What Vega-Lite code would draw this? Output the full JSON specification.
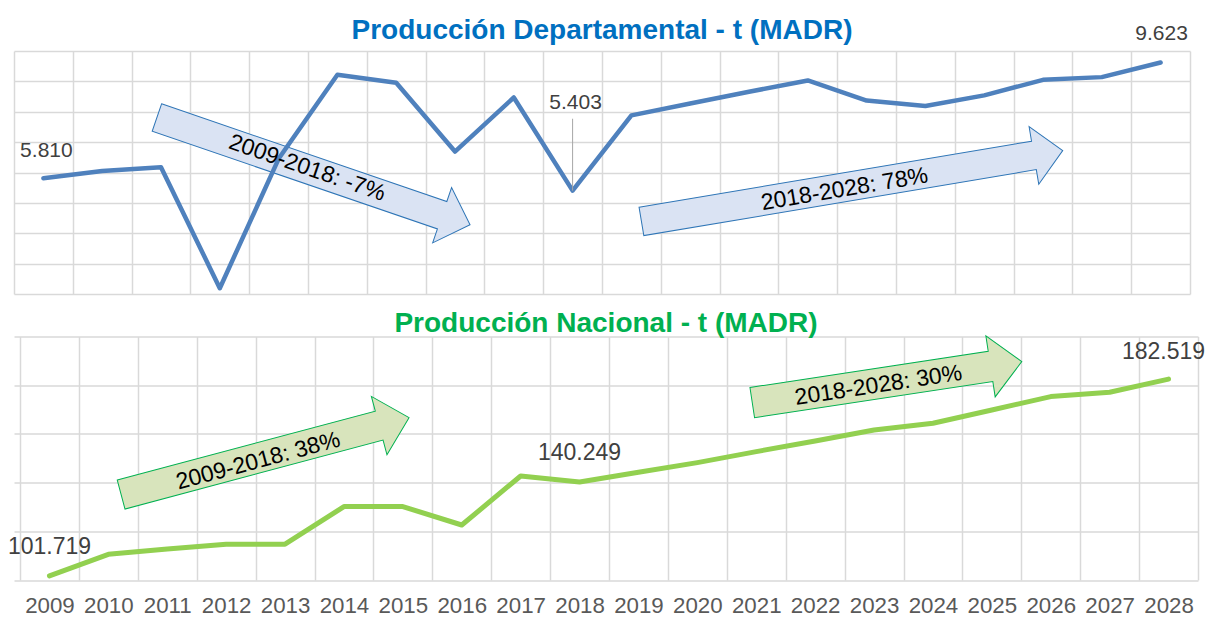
{
  "$schema": "https://vega.github.io/schema/vega-lite/v6.json",
  "background": "white",
  "padding": {"left": 7, "top": 17, "right": 4, "bottom": 0},
  "autosize": {"type": "pad"},
  "spacing": 42.5,
  "bounds": "flush",
  "config": {
    "view": {"stroke": null},
    "font": "Liberation Sans",
    "locale": {"number": {"decimal": ",", "thousands": ".", "grouping": [3], "currency": ["$", ""]}},
    "axis": {"domain": false, "ticks": false, "title": null, "gridColor": "#D9D9D9", "gridWidth": 1.5, "gridOpacity": 1}
  },
  "datasets": {
    "departamental": [
      {"year": 2009, "value": 5810}, {"year": 2010, "value": 6050}, {"year": 2011, "value": 6175},
      {"year": 2012, "value": 2190}, {"year": 2013, "value": 6450}, {"year": 2014, "value": 9220},
      {"year": 2015, "value": 8955}, {"year": 2016, "value": 6690}, {"year": 2017, "value": 8470},
      {"year": 2018, "value": 5403}, {"year": 2019, "value": 7880}, {"year": 2020, "value": 8270},
      {"year": 2021, "value": 8660}, {"year": 2022, "value": 9030}, {"year": 2023, "value": 8370},
      {"year": 2024, "value": 8190}, {"year": 2025, "value": 8540}, {"year": 2026, "value": 9050},
      {"year": 2027, "value": 9140}, {"year": 2028, "value": 9623}
    ],
    "nacional": [
      {"year": 2009, "value": 101719}, {"year": 2010, "value": 110550}, {"year": 2011, "value": 112730},
      {"year": 2012, "value": 114660}, {"year": 2013, "value": 114700}, {"year": 2014, "value": 130150},
      {"year": 2015, "value": 130150}, {"year": 2016, "value": 122590}, {"year": 2017, "value": 142710},
      {"year": 2018, "value": 140249}, {"year": 2019, "value": 144230}, {"year": 2020, "value": 148210},
      {"year": 2021, "value": 152730}, {"year": 2022, "value": 157080}, {"year": 2023, "value": 161600},
      {"year": 2024, "value": 164350}, {"year": 2025, "value": 169820}, {"year": 2026, "value": 175320},
      {"year": 2027, "value": 177080}, {"year": 2028, "value": 182519}
    ],
    "flechas": [
      {"id": "a1", "texto": "2009-2018: -7%", "year": 2013.593, "value": 6044},
      {"id": "a2", "texto": "2018-2028: 78%", "year": 2022.753, "value": 5556},
      {"id": "a3", "texto": "2009-2018: 38%", "year": 2012.661, "value": 150883},
      {"id": "a4", "texto": "2018-2028: 30%", "year": 2023.22, "value": 181273}
    ]
  },
  "vconcat": [
    {
      "width": 1176,
      "height": 243,
      "title": {"text": "Producción Departamental - t (MADR)", "color": "#0070C0", "fontSize": 28, "fontWeight": "bold", "font": "Liberation Sans", "baseline": "alphabetic", "offset": -44, "frame": "group", "anchor": "middle"},
      "encoding": {
        "x": {"field": "year", "type": "quantitative", "scale": {"domain": [2008.5, 2028.5], "nice": false, "zero": false},
              "axis": {"values": [2008.5,2009.5,2010.5,2011.5,2012.5,2013.5,2014.5,2015.5,2016.5,2017.5,2018.5,2019.5,2020.5,2021.5,2022.5,2023.5,2024.5,2025.5,2026.5,2027.5,2028.5], "labels": false, "grid": true}},
        "y": {"field": "value", "type": "quantitative", "scale": {"domain": [2000, 10000], "nice": false, "zero": false},
              "axis": {"values": [2000,3000,4000,5000,6000,7000,8000,9000,10000], "labels": false, "grid": true}}
      },
      "layer": [
        {
          "data": {"name": "flechas"},
          "transform": [{"filter": "datum.id == 'a1'"}],
          "mark": {"type": "point", "shape": "M-16.55,-1.45L13.6,-1.45L13.6,-2.92L16.55,0L13.6,2.92L13.6,1.45L-16.55,1.45Z", "size": 400, "filled": true, "fill": "#DAE3F3", "stroke": "#2E75B6", "strokeWidth": 1, "opacity": 1, "angle": 18.9}
        },
        {
          "data": {"name": "flechas"},
          "transform": [{"filter": "datum.id == 'a2'"}],
          "mark": {"type": "point", "shape": "M-21.36,-1.44L18.44,-1.44L18.44,-2.92L21.36,0L18.44,2.92L18.44,1.44L-21.36,1.44Z", "size": 400, "filled": true, "fill": "#DAE3F3", "stroke": "#2E75B6", "strokeWidth": 1, "opacity": 1, "angle": -9.54}
        },
        {
          "data": {"name": "departamental"},
          "mark": {"type": "line", "color": "#4F81BD", "strokeWidth": 4.5, "strokeCap": "round", "strokeJoin": "round"}
        },
        {
          "data": {"name": "flechas"},
          "transform": [{"filter": "datum.id == 'a1'"}],
          "mark": {"type": "text", "fontSize": 23, "color": "#000000", "angle": 18.9, "dx": -7, "dy": -1, "align": "center", "baseline": "middle"},
          "encoding": {"text": {"field": "texto"}}
        },
        {
          "data": {"name": "flechas"},
          "transform": [{"filter": "datum.id == 'a2'"}],
          "mark": {"type": "text", "fontSize": 23, "color": "#000000", "angle": -9.54, "dx": -8, "dy": 2, "align": "center", "baseline": "middle"},
          "encoding": {"text": {"field": "texto"}}
        },
        {
          "data": {"name": "departamental"},
          "transform": [{"filter": "datum.year == 2009"}],
          "mark": {"type": "text", "fontSize": 21, "color": "#404040", "dx": 3, "dy": -27, "baseline": "middle"},
          "encoding": {"text": {"field": "value", "type": "quantitative", "format": ",d"}}
        },
        {
          "data": {"name": "departamental"},
          "transform": [{"filter": "datum.year == 2028"}],
          "mark": {"type": "text", "fontSize": 21, "color": "#404040", "dx": 1, "dy": -28, "baseline": "middle"},
          "encoding": {"text": {"field": "value", "type": "quantitative", "format": ",d"}}
        },
        {
          "data": {"name": "departamental"},
          "transform": [{"filter": "datum.year == 2018"}],
          "mark": {"type": "rule", "color": "#A6A6A6", "strokeWidth": 1},
          "encoding": {"y2": {"datum": 7770}}
        },
        {
          "data": {"name": "departamental"},
          "transform": [{"filter": "datum.year == 2018"}],
          "mark": {"type": "text", "fontSize": 21, "color": "#404040", "dx": 3, "dy": -87.5, "baseline": "middle"},
          "encoding": {"text": {"field": "value", "type": "quantitative", "format": ",d"}}
        }
      ]
    },
    {
      "width": 1184,
      "height": 243.5,
      "title": {"text": "Producción Nacional - t (MADR)", "color": "#00B050", "fontSize": 28, "fontWeight": "bold", "font": "Liberation Sans", "baseline": "alphabetic", "offset": -26.5, "frame": "group", "anchor": "middle"},
      "encoding": {
        "y": {"field": "value", "type": "quantitative", "scale": {"domain": [100000, 200000], "nice": false, "zero": false},
              "axis": {"values": [100000,120000,140000,160000,180000,200000], "labels": false, "grid": true}}
      },
      "resolve": {"axis": {"x": "independent"}},
      "layer": [
        {
          "data": {"name": "flechas"},
          "transform": [{"filter": "datum.id == 'a3'"}],
          "mark": {"type": "point", "shape": "M-14.9,-1.5L11.81,-1.5L11.81,-3.02L14.9,0L11.81,3.02L11.81,1.5L-14.9,1.5Z", "size": 400, "filled": true, "fill": "#D8E4BC", "stroke": "#00B050", "strokeWidth": 1, "opacity": 1, "angle": -14.96},
          "encoding": {"x": {"field": "year", "type": "quantitative", "scale": {"domain": [2008.398, 2028.5], "nice": false, "zero": false}, "axis": null}}
        },
        {
          "data": {"name": "flechas"},
          "transform": [{"filter": "datum.id == 'a4'"}],
          "mark": {"type": "point", "shape": "M-13.63,-1.53L10.47,-1.53L10.47,-3.09L13.63,0L10.47,3.09L10.47,1.53L-13.63,1.53Z", "size": 400, "filled": true, "fill": "#D8E4BC", "stroke": "#00B050", "strokeWidth": 1, "opacity": 1, "angle": -8.65},
          "encoding": {"x": {"field": "year", "type": "quantitative", "scale": {"domain": [2008.398, 2028.5], "nice": false, "zero": false}, "axis": null}}
        },
        {
          "data": {"name": "nacional"},
          "mark": {"type": "line", "color": "#92D050", "strokeWidth": 5, "strokeCap": "round", "strokeJoin": "round"},
          "encoding": {"x": {"field": "year", "type": "quantitative", "scale": {"domain": [2008.398, 2028.5], "nice": false, "zero": false},
                             "axis": {"orient": "bottom", "values": [2008.5,2009.5,2010.5,2011.5,2012.5,2013.5,2014.5,2015.5,2016.5,2017.5,2018.5,2019.5,2020.5,2021.5,2022.5,2023.5,2024.5,2025.5,2026.5,2027.5,2028.5], "labels": false, "grid": true}}}
        },
        {
          "data": {"name": "nacional"},
          "mark": {"type": "point", "opacity": 0},
          "encoding": {"x": {"field": "year", "type": "quantitative", "scale": {"domain": [2008.398, 2028.5], "nice": false, "zero": false},
                             "axis": {"orient": "bottom", "values": [2009,2010,2011,2012,2013,2014,2015,2016,2017,2018,2019,2020,2021,2022,2023,2024,2025,2026,2027,2028], "format": "d", "grid": false, "labels": true, "labelFontSize": 22.3, "labelColor": "#595959", "labelFont": "Liberation Sans", "labelPadding": 14, "labelOverlap": false, "labelFlush": false}}}
        },
        {
          "data": {"name": "flechas"},
          "transform": [{"filter": "datum.id == 'a3'"}],
          "mark": {"type": "text", "fontSize": 23, "color": "#000000", "angle": -14.96, "dx": -8, "dy": 3, "align": "center", "baseline": "middle"},
          "encoding": {"x": {"field": "year", "type": "quantitative", "axis": null}, "text": {"field": "texto"}}
        },
        {
          "data": {"name": "flechas"},
          "transform": [{"filter": "datum.id == 'a4'"}],
          "mark": {"type": "text", "fontSize": 23, "color": "#000000", "angle": -8.65, "dx": -9, "dy": 2, "align": "center", "baseline": "middle"},
          "encoding": {"x": {"field": "year", "type": "quantitative", "axis": null}, "text": {"field": "texto"}}
        },
        {
          "data": {"name": "nacional"},
          "transform": [{"filter": "datum.year == 2009"}],
          "mark": {"type": "text", "fontSize": 23, "color": "#404040", "dx": 0, "dy": -28.4, "baseline": "middle"},
          "encoding": {"x": {"field": "year", "type": "quantitative", "axis": null}, "text": {"field": "value", "type": "quantitative", "format": ",d"}}
        },
        {
          "data": {"name": "nacional"},
          "transform": [{"filter": "datum.year == 2018"}],
          "mark": {"type": "text", "fontSize": 23, "color": "#404040", "dx": 0, "dy": -28.8, "baseline": "middle"},
          "encoding": {"x": {"field": "year", "type": "quantitative", "axis": null}, "text": {"field": "value", "type": "quantitative", "format": ",d"}}
        },
        {
          "data": {"name": "nacional"},
          "transform": [{"filter": "datum.year == 2028"}],
          "mark": {"type": "text", "fontSize": 23, "color": "#404040", "dx": -5, "dy": -27.5, "baseline": "middle"},
          "encoding": {"x": {"field": "year", "type": "quantitative", "axis": null}, "text": {"field": "value", "type": "quantitative", "format": ",d"}}
        }
      ]
    }
  ]
}
